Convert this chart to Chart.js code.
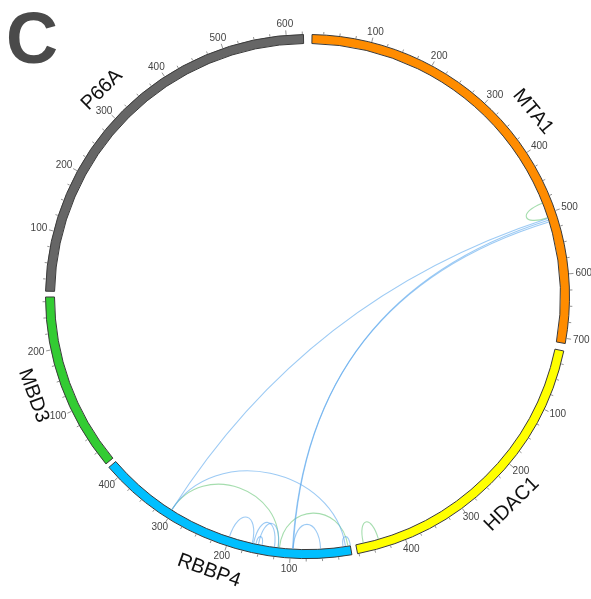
<!DOCTYPE html>
<html>
<head>
<meta charset="utf-8">
<script src="https://cdn.jsdelivr.net/npm/chart.js@4.4.0/dist/chart.umd.min.js"></script>
<style>
  html, body { margin: 0; padding: 0; background: #ffffff; }
  #wrap { position: relative; width: 591px; height: 599px; }
</style>
</head>
<body>
<div id="wrap"><canvas id="chart" width="591" height="599"></canvas></div>
<script>
// Proteins on the ring (clockwise from 12 o'clock) and their lengths in residues
const proteins = ['MTA1', 'HDAC1', 'RBBP4', 'MBD3', 'P66A'];
const proteinLengths = [715, 482, 425, 285, 633];

// Residue tick labels (every 100 residues), minor ticks every 25
const tickLabels = ['100', '200', '300', '400', '500', '600', '700'];
const minorTickStep = 25;

// Cross-links: [protein A, residue A, protein B, residue B]
const blueLinks = [
  ['MTA1', 508, 'RBBP4', 302],
  ['MTA1', 511, 'RBBP4', 96],
  ['MTA1', 514, 'RBBP4', 97],
  ['RBBP4', 302, 'RBBP4', 12],
  ['RBBP4', 200, 'RBBP4', 162],
  ['RBBP4', 160, 'RBBP4', 126],
  ['RBBP4', 152, 'RBBP4', 120],
  ['RBBP4', 156, 'RBBP4', 146],
  ['RBBP4', 96, 'RBBP4', 52],
  ['RBBP4', 16, 'RBBP4', 4]
];
const greenLinks = [
  ['MTA1', 482, 'MTA1', 507],
  ['RBBP4', 302, 'RBBP4', 120],
  ['RBBP4', 118, 'RBBP4', 8],
  ['HDAC1', 440, 'HDAC1', 465]
];

// Styling
const ringColors = ['#ff8c00', '#ffff00', '#00bfff', '#33cc33', '#666666'];
const blueLinkColor = 'rgba(95, 170, 238, 0.62)';
const greenLinkColor = 'rgba(110, 200, 125, 0.62)';
const ringSpacing = 10;

function angleAt(arc, len, pos) {
  return arc.startAngle + (arc.endAngle - arc.startAngle) * pos / len;
}

const circosPlugin = {
  id: 'circos',
  afterDatasetsDraw(chart) {
    const ctx = chart.ctx;
    const arcs = chart.getDatasetMeta(0).data;
    const cx = arcs[0].x, cy = arcs[0].y;
    const grow = ringSpacing / 2;
    const rOut = arcs[0].outerRadius + grow + 0.5;
    const rIn = arcs[0].innerRadius + grow - 0.5;

    // ---- links ----
    function drawLink(link, color) {
      const ia = proteins.indexOf(link[0]);
      const ib = proteins.indexOf(link[2]);
      const a1 = angleAt(arcs[ia], proteinLengths[ia], link[1]);
      const a2 = angleAt(arcs[ib], proteinLengths[ib], link[3]);
      let diff = Math.abs(a2 - a1);
      if (diff > Math.PI) diff = 2 * Math.PI - diff;
      const deg = diff * 180 / Math.PI;
      const r = rIn;
      const depth = Math.min(2 * r / 3, 1.35 * deg + 24 * Math.min(1, deg / 4));
      const k = (r - depth) / r;
      ctx.beginPath();
      ctx.moveTo(cx + r * Math.cos(a1), cy + r * Math.sin(a1));
      ctx.bezierCurveTo(
        cx + k * r * Math.cos(a1), cy + k * r * Math.sin(a1),
        cx + k * r * Math.cos(a2), cy + k * r * Math.sin(a2),
        cx + r * Math.cos(a2), cy + r * Math.sin(a2));
      ctx.strokeStyle = color;
      ctx.lineWidth = 1.1;
      ctx.stroke();
    }
    ctx.save();
    greenLinks.forEach(l => drawLink(l, greenLinkColor));
    blueLinks.forEach(l => drawLink(l, blueLinkColor));
    ctx.restore();

    // ---- ticks and residue labels ----
    ctx.save();
    ctx.strokeStyle = '#777777';
    ctx.lineWidth = 0.8;
    ctx.fillStyle = '#444444';
    ctx.font = '10px "Liberation Sans", Arial, sans-serif';
    ctx.textAlign = 'center';
    ctx.textBaseline = 'middle';
    arcs.forEach((arc, i) => {
      const len = proteinLengths[i];
      for (let p = minorTickStep; p < len; p += minorTickStep) {
        const a = angleAt(arc, len, p);
        const major = p % 100 === 0;
        const tl = major ? 4.5 : 2.5;
        const c = Math.cos(a), s = Math.sin(a);
        ctx.beginPath();
        ctx.moveTo(cx + rOut * c, cy + rOut * s);
        ctx.lineTo(cx + (rOut + tl) * c, cy + (rOut + tl) * s);
        ctx.stroke();
        if (major) {
          const label = tickLabels[p / 100 - 1];
          const w = ctx.measureText(label).width;
          const h = 8;
          const ra = rOut + 6.5;
          const x = cx + ra * c + c * w / 2;
          const y = cy + ra * s + s * h / 2;
          ctx.fillText(label, x, y);
        }
      }
    });
    ctx.restore();

    // ---- protein names, tangential ----
    ctx.save();
    ctx.fillStyle = '#111111';
    ctx.font = '20px "Liberation Sans", Arial, sans-serif';
    ctx.textAlign = 'center';
    ctx.textBaseline = 'middle';
    arcs.forEach((arc, i) => {
      const a = (arc.startAngle + arc.endAngle) / 2;
      const rl = rOut + 29;
      const x = cx + rl * Math.cos(a), y = cy + rl * Math.sin(a);
      // angle measured clockwise from 12 o'clock
      let fromTop = a + Math.PI / 2;
      fromTop = ((fromTop % (2 * Math.PI)) + 2 * Math.PI) % (2 * Math.PI);
      let rot = fromTop;
      if (fromTop > Math.PI / 2 && fromTop < 3 * Math.PI / 2) rot = fromTop - Math.PI;
      ctx.save();
      ctx.translate(x, y);
      ctx.rotate(rot);
      ctx.fillText(proteins[i], 0, 0);
      ctx.restore();
    });
    ctx.restore();

    // ---- panel letter ----
    ctx.save();
    ctx.fillStyle = '#4a4a4a';
    ctx.font = 'bold 72px "Liberation Sans", Arial, sans-serif';
    ctx.textAlign = 'left';
    ctx.textBaseline = 'alphabetic';
    ctx.fillText('C', 6, 63);
    ctx.restore();
  }
};

new Chart(document.getElementById('chart'), {
  type: 'doughnut',
  data: {
    labels: proteins,
    datasets: [{
      data: proteinLengths,
      backgroundColor: ringColors,
      borderColor: '#3a3a3a',
      borderWidth: 1,
      borderJoinStyle: 'miter',
      spacing: ringSpacing
    }]
  },
  options: {
    responsive: false,
    animation: false,
    rotation: 0,
    circumference: 360,
    cutout: 248,
    layout: { padding: { left: 45, right: 21, top: 34, bottom: 40 } },
    plugins: {
      legend: { display: false },
      tooltip: { enabled: false }
    },
    events: []
  },
  plugins: [circosPlugin]
});
</script>
</body>
</html>
